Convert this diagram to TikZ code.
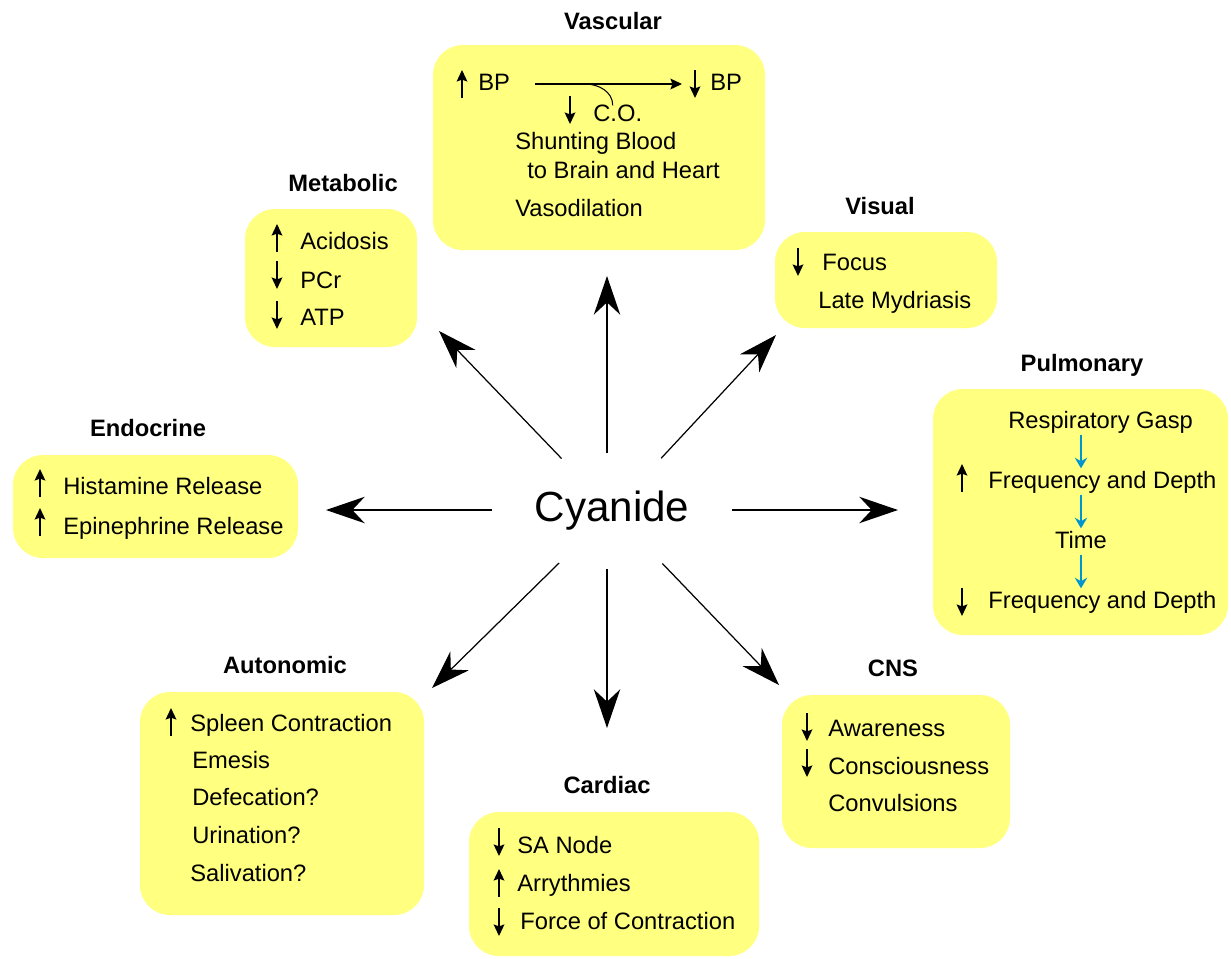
\documentclass[tikz,border=0pt]{standalone}
\usepackage{fontspec}
\setmainfont{Liberation Sans}
\usepackage{tikz}
\usetikzlibrary{arrows.meta,shapes.geometric,fit}
\tikzset{>=latex}
\usepackage{xcolor}
\definecolor{boxyellow}{RGB}{255,255,128}
\definecolor{gaspblue}{RGB}{0,150,205}
\def\txt{\fontsize{13.5}{16}\selectfont}
\tikzstyle{box}=[fill=boxyellow,rounded corners=0.6cm,inner sep=0pt]
\tikzstyle{item}=[anchor=west,inner sep=0pt,text height=0.72em,text depth=0pt]
\tikzstyle{ttl}=[font=\txt\bfseries,inner sep=0pt,text height=0.72em,text depth=0pt]
\tikzstyle{hub}=[ellipse,minimum width=4.8cm,minimum height=2.3cm,inner sep=0pt,
  font=\fontsize{24}{28}\selectfont]
\tikzstyle{spoke}=[-{Stealth[length=22pt,width=15pt,inset=7pt]},line width=1.1pt]
\tikzstyle{dspoke}=[spoke,line width=0.7pt]
\tikzstyle{updown}=[-{Stealth[length=6.5pt,width=6pt,inset=1pt]},line width=1.2pt]
\tikzstyle{bflow}=[gaspblue,-{Stealth[length=6pt,width=7pt]},line width=1pt]
\def\upar#1{\draw[updown] (#1) ++(0,14) -- ++(0,-28)}
\def\dnar#1{\draw[updown] (#1) ++(0,-14) -- ++(0,28)}

\begin{document}
\begin{tikzpicture}[x=0.02cm,y=-0.02cm,font=\txt]
      \useasboundingbox (0,0) rectangle (1231,958);
      \coordinate (Uh) at (607,276);
      \coordinate (ULh) at (439,331);
      \coordinate (URh) at (776,335);
      \coordinate (Lh) at (326,510);
      \coordinate (Rh) at (898,510);
      \coordinate (DLh) at (432,688);
      \coordinate (Dh) at (607,728);
      \coordinate (DRh) at (779,685);

      % BOXES
      \node[box,fit={(433,45) (765,250)}] (Vas) {};
      \node[box,fit={(245,209) (417,347)}] (Met) {};
      \node[box,fit={(775,232) (997,328)}] (Vis) {};
      \node[box,fit={(933,389) (1228,635)}] (Pul) {};
      \node[box,fit={(13,455) (298,558)}] (End) {};
      \node[box,fit={(140,692) (424,915)}] (Aut) {};
      \node[box,fit={(469,812) (759,956)}] (Car) {};
      \node[box,fit={(782,695) (1010,848)}] (Cns) {};

      % TITLES
      \node[ttl] (tVas) at (613,23) {Vascular};
      \node[ttl] (tMet) at (343,185) {Metabolic};
      \node[ttl] (tVis) at (880,208) {Visual};
      \node[ttl] (tPul) at (1082,365) {Pulmonary};
      \node[ttl] (tEnd) at (148,430) {Endocrine};
      \node[ttl] (tAut) at (285,667) {Autonomic};
      \node[ttl] (tCar) at (607,787) {Cardiac};
      \node[ttl] (tCns) at (893,670) {CNS};

      % CENTRE
      \node[hub] (C) at (612,511) {Cyanide};
      \draw[spoke] (C.north -| Uh) -- (Uh);
      \draw[spoke] (C.south -| Dh) -- (Dh);
      \draw[spoke] (C.west |- Lh) -- (Lh);
      \draw[spoke] (C.east |- Rh) -- (Rh);
      \draw[dspoke] (C) -- (ULh);
      \draw[dspoke] (C) -- (URh);
      \draw[dspoke] (C) -- (DLh);
      \draw[dspoke] (C) -- (DRh);

      % VASCULAR
      \upar{462,84};
      \node[item] (bp1) at (478,84) {BP};
      \dnar{695,84};
      \node[item] (bp2) at (710,84) {BP};
      \draw[updown,shorten <=0.5cm,shorten >=0.56cm] (bp1.east) -- (bp2.west);
      \coordinate (jn) at (585,84);
      \dnar{570,110};
      \node[item] (co) at (593,115) {C.O.};
      \draw[line width=0.6pt] (jn) to[out=0,in=90] ([xshift=-0.1cm,yshift=0.06cm]co.north);
      \node[item] (v1) at (515,143) {Shunting Blood};
      \node[item] (v2) at (527,172) {to Brain and Heart};
      \node[item] (v3) at (515,210) {Vasodilation};

      % METABOLIC
      \upar{277,238};
      \node[item] (m1) at (300,243) {Acidosis};
      \dnar{277,275};
      \node[item] (m2) at (300,282) {PCr};
      \dnar{277,315};
      \node[item] (m3) at (300,319) {ATP};

      % VISUAL
      \dnar{798,262};
      \node[item] (s1) at (822,264) {Focus};
      \node[item] (s2) at (818,302) {Late Mydriasis};

      % PULMONARY
      \node[item] (rg) at (1008,422) {Respiratory Gasp};
      \upar{962,478};
      \node[item] (fq1) at (988,482) {Frequency and Depth};
      \node[inner sep=0pt,text height=0.72em,text depth=0pt] (tm) at (1081,542) {Time};
      \dnar{962,602};
      \node[item] (fq2) at (988,602) {Frequency and Depth};
      \draw[bflow,shorten <=0.13cm,shorten >=0.14cm] (rg.south -| tm) -- (fq1.north -| tm);
      \draw[bflow,shorten <=0.13cm,shorten >=0.14cm] (fq1.south -| tm) -- (tm.north);
      \draw[bflow,shorten <=0.13cm,shorten >=0.14cm] (tm.south) -- (fq2.north -| tm);

      % ENDOCRINE
      \upar{40,483};
      \node[item] (e1) at (63,488) {Histamine Release};
      \upar{40,522};
      \node[item] (e2) at (63,528) {Epinephrine Release};

      % AUTONOMIC
      \upar{171,722};
      \node[item] (a1) at (190,725) {Spleen Contraction};
      \node[item] (a2) at (192,762) {Emesis};
      \node[item] (a3) at (192,799) {Defecation?};
      \node[item] (a4) at (192,837) {Urination?};
      \node[item] (a5) at (190,875) {Salivation?};

      % CARDIAC
      \dnar{499,842};
      \node[item] (c1) at (517,847) {SA Node};
      \upar{499,883};
      \node[item] (c2) at (517,885) {Arrythmies};
      \dnar{499,922};
      \node[item] (c3) at (520,923) {Force of Contraction};

      % CNS
      \dnar{807,727};
      \node[item] (n1) at (828,730) {Awareness};
      \dnar{807,763};
      \node[item] (n2) at (828,768) {Consciousness};
      \node[item] (n3) at (828,805) {Convulsions};

    \end{tikzpicture}
\end{document}
